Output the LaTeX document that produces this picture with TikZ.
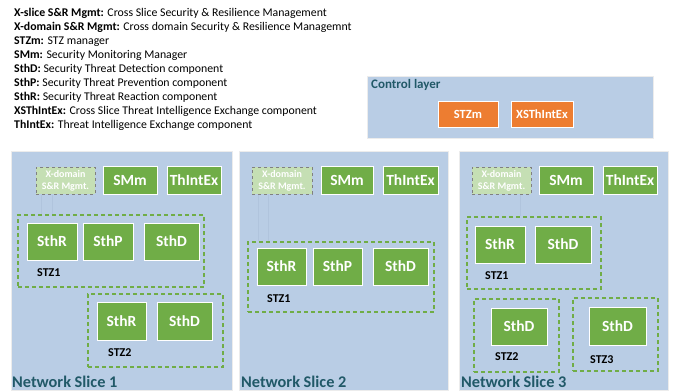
\documentclass[tikz,border=0pt]{standalone}
\usepackage{fontspec}
\setmainfont{Carlito}
\usepackage{xcolor}
\usetikzlibrary{positioning}

\definecolor{sliceblue}{HTML}{B9CDE5}
\definecolor{compgreen}{HTML}{70AD47}
\definecolor{ctrlorange}{HTML}{ED7D31}
\definecolor{titleteal}{HTML}{215968}
\definecolor{xdomgreen}{HTML}{C5DFB4}
\definecolor{faintline}{HTML}{B0C4DD}

\tikzset{
  slicebox/.style={draw=white!85!gray,line width=0.8pt,fill=sliceblue,inner sep=0pt},
  comp/.style={draw=white,line width=1pt,fill=compgreen,text=white,
    font=\fontsize{15.5}{15.5}\selectfont\bfseries,inner sep=0pt},
  ctrl/.style={draw=white,line width=1pt,fill=ctrlorange,text=white,
    font=\fontsize{12.5}{12.5}\selectfont\bfseries,inner sep=0pt},
  xdom/.style={draw=gray,dashed,line width=1pt,fill=xdomgreen,text=white,
    font=\fontsize{10}{12}\selectfont\bfseries,align=center,inner sep=0pt},
  stzbox/.style={draw=compgreen,dashed,dash pattern=on 4pt off 3pt,line width=1.2pt,inner sep=0pt},
  stzlabel/.style={anchor=west,font=\fontsize{12}{12}\selectfont\bfseries,inner sep=0pt},
  slicelabel/.style={anchor=base west,text=titleteal,font=\fontsize{16.3}{16.3}\selectfont\bfseries,inner sep=0pt},
  legend/.style={anchor=base west,font=\fontsize{11.8}{11.8}\selectfont,inner sep=0pt},
  faint/.style={draw=faintline,line width=0.5pt}
}

\begin{document}
\begin{tikzpicture}[x=1pt,y=-1pt]
        \useasboundingbox (0,0) rectangle (678,391);

        % legend
        \node[legend] (leg1) at (14,16.5) {\textbf{X-slice S\&R Mgmt:} Cross Slice Security \& Resilience Management};
        \node[legend] (leg2) at (14,30.5) {\textbf{X-domain S\&R Mgmt:} Cross domain Security \& Resilience Managemnt};
        \node[legend] (leg3) at (14,44.5) {\textbf{STZm:} STZ manager};
        \node[legend] (leg4) at (14,58.5) {\textbf{SMm:} Security Monitoring Manager};
        \node[legend] (leg5) at (14,72.5) {\textbf{SthD:} Security Threat Detection component};
        \node[legend] (leg6) at (14,86.5) {\textbf{SthP:} Security Threat Prevention component};
        \node[legend] (leg7) at (14,100.5) {\textbf{SthR:} Security Threat Reaction component};
        \node[legend] (leg8) at (14,114.5) {\textbf{XSThIntEx:} Cross Slice Threat Intelligence Exchange component};
        \node[legend] (leg9) at (14,128.5) {\textbf{ThIntEx:} Threat Intelligence Exchange component};

        % control layer
        \node[slicebox,minimum width=286pt,minimum height=62pt] (ctrl) at (510,107) {};
        \node[anchor=west,text=titleteal,font=\fontsize{13}{13}\selectfont\bfseries,inner sep=0pt] (ctrllabel) at (371,85) {Control layer};
        \node[ctrl,minimum width=60pt,minimum height=26pt] (stzm) at (468,114) {STZm};
        \node[ctrl,minimum width=62pt,minimum height=26pt] (xsthintex) at (542,114) {XSThIntEx};

        % network slice 1
        \node[slicebox,minimum width=221pt,minimum height=239pt] (slice1) at (121.5,270.5) {};
        \node[slicelabel] (slice1label) at (12,387) {Network Slice 1};
        \node[xdom,minimum width=59pt,minimum height=27pt] (xd1) at (65.5,180.5) {X-domain\\S\&R Mgmt.};
        \node[comp,minimum width=54pt,minimum height=28pt] (smm1) at (130,180) {SMm};
        \node[comp,minimum width=54pt,minimum height=28pt] (thi1) at (194,180) {ThIntEx};
        \node[stzbox,minimum width=186pt,minimum height=72pt] (stz1a) at (111,251) {};
        \node[comp,minimum width=50pt,minimum height=37pt] (sthr1a) at (52,241.5) {SthR};
        \node[comp,minimum width=50pt,minimum height=37pt] (sthp1a) at (108,241.5) {SthP};
        \node[comp,minimum width=55pt,minimum height=37pt] (sthd1a) at (171.5,241.5) {SthD};
        \node[stzlabel] (stz1alabel) at (37,273) {STZ1};
        \node[stzbox,minimum width=135pt,minimum height=73pt] (stz1b) at (155.5,330.5) {};
        \node[comp,minimum width=49pt,minimum height=38pt] (sthr1b) at (121.5,321) {SthR};
        \node[comp,minimum width=55pt,minimum height=38pt] (sthd1b) at (184.5,321) {SthD};
        \node[stzlabel] (stz1blabel) at (108,353) {STZ2};
        \draw[faint] ([xshift=-24.5pt]xd1.south) -- ([xshift=-24.5pt]xd1.south |- stz1a.north);
        \draw[faint] ([xshift=-13.5pt]xd1.south) -- ([xshift=-13.5pt]xd1.south |- stz1a.north);

        % network slice 2
        \node[slicebox,minimum width=209pt,minimum height=239pt] (slice2) at (343.5,270.5) {};
        \node[slicelabel] (slice2label) at (241,387) {Network Slice 2};
        \node[xdom,minimum width=60pt,minimum height=27pt] (xd2) at (282,180.5) {X-domain\\S\&R Mgmt.};
        \node[comp,minimum width=52pt,minimum height=28pt] (smm2) at (347,180) {SMm};
        \node[comp,minimum width=55pt,minimum height=28pt] (thi2) at (410.5,180) {ThIntEx};
        \node[stzbox,minimum width=186pt,minimum height=70pt] (stz2a) at (341,277) {};
        \node[comp,minimum width=49pt,minimum height=37pt] (sthr2a) at (281.5,266.5) {SthR};
        \node[comp,minimum width=49pt,minimum height=37pt] (sthp2a) at (337.5,266.5) {SthP};
        \node[comp,minimum width=55pt,minimum height=37pt] (sthd2a) at (400.5,266.5) {SthD};
        \node[stzlabel] (stz2alabel) at (267,299) {STZ1};
        \draw[faint] ([xshift=-24pt]xd2.south) -- ([xshift=-24pt]xd2.south |- stz2a.north);
        \draw[faint] ([xshift=-14pt]xd2.south) -- ([xshift=-14pt]xd2.south |- stz2a.north);

        % network slice 3
        \node[slicebox,minimum width=209pt,minimum height=239pt] (slice3) at (563.5,270.5) {};
        \node[slicelabel] (slice3label) at (461,387) {Network Slice 3};
        \node[xdom,minimum width=59pt,minimum height=27pt] (xd3) at (501.5,180.5) {X-domain\\S\&R Mgmt.};
        \node[comp,minimum width=54pt,minimum height=28pt] (smm3) at (566,180) {SMm};
        \node[comp,minimum width=54pt,minimum height=28pt] (thi3) at (630,180) {ThIntEx};
        \node[stzbox,minimum width=134pt,minimum height=72pt] (stz3a) at (534,253) {};
        \draw[faint] ([xshift=18.5pt]xd3.south) -- ([xshift=18.5pt]xd3.south |- stz3a.north);
        \node[comp,minimum width=50pt,minimum height=37pt] (sthr3a) at (500,244.5) {SthR};
        \node[comp,minimum width=56pt,minimum height=37pt] (sthd3a) at (563,244.5) {SthD};
        \node[stzlabel] (stz3alabel) at (485,276) {STZ1};
        \node[stzbox,minimum width=85pt,minimum height=73pt] (stz3b) at (516.5,335.5) {};
        \node[comp,minimum width=56pt,minimum height=37pt] (sthd3b) at (519,326.5) {SthD};
        \node[stzlabel] (stz3blabel) at (495,357) {STZ2};
        \node[stzbox,minimum width=85pt,minimum height=73pt] (stz3c) at (615.5,334.5) {};
        \node[comp,minimum width=57pt,minimum height=38pt] (sthd3c) at (617.5,326) {SthD};
        \node[stzlabel] (stz3clabel) at (590,360) {STZ3};
    \end{tikzpicture}
\end{document}
